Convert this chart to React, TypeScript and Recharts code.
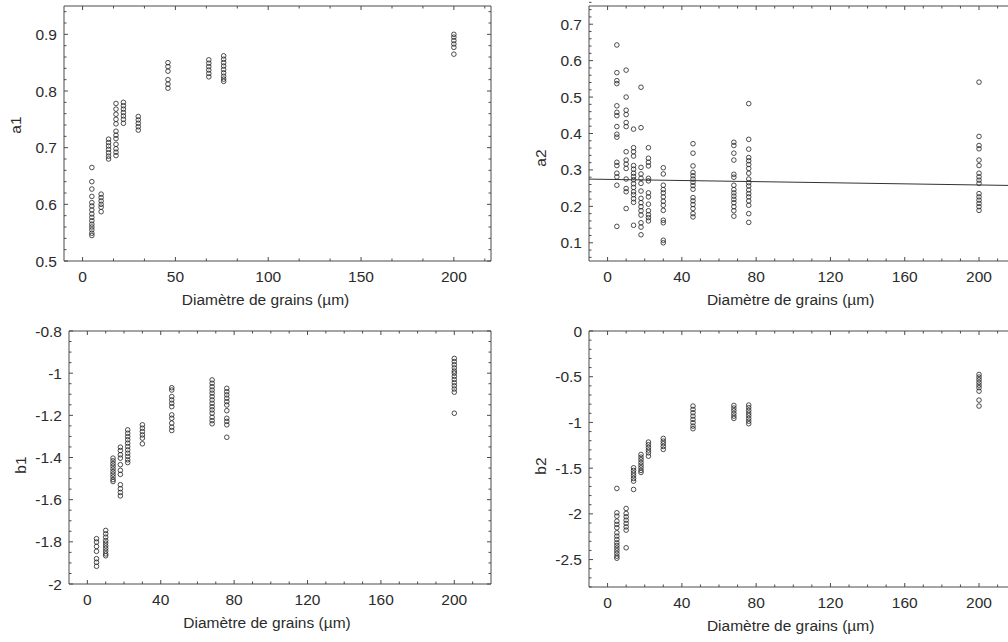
import React from 'react'
import { ScatterChart, Scatter, XAxis, YAxis, Label } from 'recharts'

// grain diameters (µm) shared by all four panels
const diameters = [5, 10, 14, 18, 22, 30, 46, 68, 76, 200]

const a1 = [
  [0.665, 0.64, 0.627, 0.614, 0.603, 0.597, 0.59, 0.583, 0.577, 0.571, 0.565, 0.56, 0.555, 0.549, 0.545],
  [0.618, 0.612, 0.606, 0.6, 0.595, 0.587],
  [0.715, 0.709, 0.703, 0.697, 0.691, 0.685, 0.68],
  [0.778, 0.768, 0.759, 0.75, 0.742, 0.729, 0.722, 0.716, 0.706, 0.698, 0.692, 0.686],
  [0.78, 0.774, 0.768, 0.762, 0.756, 0.75, 0.743],
  [0.755, 0.749, 0.743, 0.737, 0.731],
  [0.85, 0.843, 0.835, 0.82, 0.812, 0.805],
  [0.855, 0.849, 0.843, 0.837, 0.831, 0.825],
  [0.862, 0.856, 0.85, 0.844, 0.838, 0.832, 0.826, 0.821, 0.817],
  [0.9, 0.895, 0.889, 0.883, 0.877, 0.865],
]

const a2 = [
  [0.643, 0.567, 0.545, 0.537, 0.476, 0.458, 0.449, 0.419, 0.398, 0.39, 0.321, 0.312, 0.291, 0.281, 0.258, 0.145],
  [0.574, 0.5, 0.464, 0.452, 0.43, 0.419, 0.35, 0.327, 0.316, 0.304, 0.275, 0.249, 0.24, 0.194],
  [0.412, 0.361, 0.35, 0.338, 0.312, 0.302, 0.291, 0.282, 0.273, 0.262, 0.252, 0.24, 0.232, 0.221, 0.211, 0.148],
  [0.527, 0.416, 0.307, 0.289, 0.277, 0.263, 0.242, 0.222, 0.21, 0.199, 0.188, 0.176, 0.155, 0.143, 0.122],
  [0.361, 0.332, 0.321, 0.311, 0.277, 0.27, 0.237, 0.226, 0.206, 0.188, 0.177, 0.169, 0.16],
  [0.306, 0.289, 0.258, 0.246, 0.237, 0.226, 0.214, 0.203, 0.189, 0.162, 0.155, 0.107, 0.1],
  [0.372, 0.346, 0.311, 0.293, 0.284, 0.275, 0.266, 0.257, 0.247, 0.224, 0.215, 0.205, 0.194, 0.18, 0.171],
  [0.376, 0.367, 0.346, 0.327, 0.288, 0.28, 0.258, 0.246, 0.237, 0.228, 0.219, 0.21, 0.199, 0.188, 0.173],
  [0.482, 0.384, 0.357, 0.334, 0.325, 0.315, 0.304, 0.291, 0.275, 0.265, 0.256, 0.245, 0.235, 0.226, 0.215, 0.203, 0.18, 0.156],
  [0.541, 0.392, 0.367, 0.358, 0.327, 0.312, 0.291, 0.281, 0.272, 0.263, 0.235, 0.226, 0.217, 0.208, 0.199, 0.189],
]

// fitted line on the a2 panel (ends at the visible edge of the panel)
const a2FitX = [-10, 215.6]
const a2FitY = [0.2748, 0.2575]

const b1 = [
  [-1.785, -1.801, -1.822, -1.845, -1.88, -1.897, -1.916],
  [-1.746, -1.762, -1.778, -1.794, -1.806, -1.819, -1.831, -1.844, -1.857, -1.866],
  [-1.403, -1.416, -1.429, -1.441, -1.454, -1.467, -1.479, -1.492, -1.505, -1.514],
  [-1.351, -1.367, -1.387, -1.403, -1.434, -1.461, -1.48, -1.529, -1.548, -1.566, -1.582],
  [-1.269, -1.285, -1.301, -1.316, -1.332, -1.348, -1.364, -1.38, -1.395, -1.411, -1.424],
  [-1.245, -1.261, -1.277, -1.293, -1.308, -1.335],
  [-1.069, -1.08, -1.111, -1.127, -1.143, -1.159, -1.198, -1.214, -1.237, -1.256, -1.272],
  [-1.032, -1.048, -1.064, -1.08, -1.095, -1.111, -1.127, -1.143, -1.159, -1.174, -1.19, -1.209, -1.225, -1.24],
  [-1.072, -1.088, -1.103, -1.119, -1.135, -1.151, -1.178, -1.214, -1.229, -1.245, -1.304],
  [-0.93, -0.945, -0.96, -0.975, -0.99, -1.0, -1.015, -1.03, -1.045, -1.06, -1.075, -1.09, -1.19],
]

const b2 = [
  [-1.722, -1.988, -2.025, -2.08, -2.116, -2.152, -2.207, -2.244, -2.28, -2.317, -2.346, -2.375, -2.404, -2.433, -2.463, -2.485],
  [-1.941, -1.996, -2.032, -2.069, -2.105, -2.142, -2.178, -2.371],
  [-1.496, -1.525, -1.554, -1.583, -1.613, -1.642, -1.733],
  [-1.35, -1.38, -1.408, -1.438, -1.467, -1.496, -1.525, -1.547],
  [-1.215, -1.244, -1.274, -1.303, -1.332, -1.369],
  [-1.175, -1.205, -1.233, -1.263, -1.295],
  [-0.821, -0.858, -0.894, -0.931, -0.967, -1.003, -1.04, -1.069],
  [-0.814, -0.843, -0.872, -0.902, -0.931, -0.956],
  [-0.81, -0.839, -0.869, -0.898, -0.926, -0.956, -0.986, -1.014],
  [-0.475, -0.504, -0.533, -0.562, -0.592, -0.62, -0.658, -0.756, -0.821],
]

const xTicksA1 = [0, 50, 100, 150, 200]
const xTicks = [0, 40, 80, 120, 160, 200]
const yTicksA1 = [0.5, 0.6, 0.7, 0.8, 0.9]
const yTicksA2 = [0.1, 0.2, 0.3, 0.4, 0.5, 0.6, 0.7]
const yTicksB1 = [-2, -1.8, -1.6, -1.4, -1.2, -1, -0.8]
const yTicksB2 = [-2.5, -2, -1.5, -1, -0.5, 0]

const xTitle = 'Diamètre de grains (µm)'
const FONT = '"Liberation Sans", Arial, sans-serif'
const INK = '#2b2b2b'
const FRAME = '#4a4a4a'
const FS = 15.5

const toPoints = (cols: number[][]) => diameters.flatMap((d, i) => cols[i].map((v) => ({ x: d, y: v })))

// minor tick positions (axis decoration only)
const grid = (a: number, b: number, step: number) => {
  const n = Math.round((b - a) / step)
  return Array.from({ length: n + 1 }, (_, i) => Math.round((a + i * step) * 10000) / 10000)
}
const isMajor = (v: number, majors: number[]) => majors.some((m) => Math.abs(m - v) < 1e-6)
const merge = (majors: number[], minors: number[]) =>
  [...majors, ...minors.filter((v) => !isMajor(v, majors))].sort((p, q) => p - q)

const label = (x: number, y: number, v: number, anchor: 'middle' | 'end') => (
  <text x={x} y={y} textAnchor={anchor} fontSize={FS} fontFamily={FONT} fill={INK}>
    {String(v)}
  </text>
)

const bottomTick = (majors: number[]) => (p: any) => {
  const major = isMajor(p.payload.value, majors)
  return (
    <g>
      <line x1={p.x} y1={p.y} x2={p.x} y2={p.y - (major ? 4 : 2.5)} stroke={FRAME} />
      {major && label(p.x, p.y + 21, p.payload.value, 'middle')}
    </g>
  )
}
const topTick = (majors: number[]) => (p: any) => (
  <line x1={p.x} y1={p.y} x2={p.x} y2={p.y + (isMajor(p.payload.value, majors) ? 4 : 2.5)} stroke={FRAME} />
)
const leftTick = (majors: number[]) => (p: any) => {
  const major = isMajor(p.payload.value, majors)
  return (
    <g>
      <line x1={p.x} y1={p.y} x2={p.x + (major ? 4 : 2.5)} y2={p.y} stroke={FRAME} />
      {major && label(p.x - 7, p.y + 5.5, p.payload.value, 'end')}
    </g>
  )
}
const rightTick = (majors: number[]) => (p: any) => (
  <line x1={p.x} y1={p.y} x2={p.x - (isMajor(p.payload.value, majors) ? 4 : 2.5)} y2={p.y} stroke={FRAME} />
)

const ring = (p: any) => <circle cx={p.cx} cy={p.cy} r={2.3} fill="none" stroke="#222" strokeWidth={0.8} />
const nothing = () => <g />

type PanelProps = {
  left: number
  top: number
  width: number
  height: number
  margin: { top: number; right: number; bottom: number; left: number }
  yAxisWidth: number
  xDomain: [number, number]
  frameRight: boolean
  points: { x: number; y: number }[]
  fit?: { x: number; y: number }[]
  xMajor: number[]
  xMinorStep: number
  yDomain: [number, number]
  yMajor: number[]
  yMinorStep: number
  yLabel: string
  yLabelX: number
  yLabelY: number
  titleDx: number
}

function Panel(props: PanelProps) {
  const { xMajor, yMajor, yDomain, xDomain } = props
  const xAll = merge(xMajor, grid(0, 210, props.xMinorStep))
  const yStart = Math.ceil(yDomain[0] / props.yMinorStep - 1e-6) * props.yMinorStep
  const yAll = merge(yMajor, grid(yStart, yDomain[1], props.yMinorStep))

  return (
    <div style={{ position: 'absolute', left: props.left, top: props.top }}>
      <ScatterChart width={props.width} height={props.height} margin={props.margin}>
        <XAxis
          type="number"
          dataKey="x"
          domain={xDomain}
          ticks={xAll}
          interval={0}
          height={50}
          tickSize={0}
          tickMargin={0}
          tickLine={false}
          axisLine={{ stroke: FRAME }}
          tick={bottomTick(xMajor)}
        >
          <Label
            content={(lp: any) => {
              const vb = lp.viewBox
              // title centred on the full (uncropped) frame width
              const full = ((220 - xDomain[0]) / (xDomain[1] - xDomain[0])) * vb.width
              return (
                <text
                  x={vb.x + full / 2 + props.titleDx}
                  y={vb.y + 44}
                  textAnchor="middle"
                  fontSize={FS}
                  fontFamily={FONT}
                  fill={INK}
                >
                  {xTitle}
                </text>
              )
            }}
          />
        </XAxis>
        <XAxis
          xAxisId="top"
          orientation="top"
          type="number"
          dataKey="x"
          domain={xDomain}
          ticks={xAll}
          interval={0}
          height={1}
          tickSize={0}
          tickMargin={0}
          tickLine={false}
          axisLine={{ stroke: FRAME }}
          tick={topTick(xMajor)}
        />
        <YAxis
          type="number"
          dataKey="y"
          domain={yDomain}
          ticks={yAll}
          interval={0}
          width={props.yAxisWidth}
          tickSize={0}
          tickMargin={0}
          tickLine={false}
          axisLine={{ stroke: FRAME }}
          tick={leftTick(yMajor)}
        >
          <Label
            content={() => (
              <text
                x={props.yLabelX}
                y={props.yLabelY}
                transform={`rotate(-90 ${props.yLabelX} ${props.yLabelY})`}
                textAnchor="middle"
                fontSize={FS}
                fontFamily={FONT}
                fill={INK}
              >
                {props.yLabel}
              </text>
            )}
          />
        </YAxis>
        {props.frameRight && (
          <YAxis
            yAxisId="right"
            orientation="right"
            type="number"
            dataKey="y"
            domain={yDomain}
            ticks={yAll}
            interval={0}
            width={1}
            tickSize={0}
            tickMargin={0}
            tickLine={false}
            axisLine={{ stroke: FRAME }}
            tick={rightTick(yMajor)}
          />
        )}
        {/* invisible series so the frame axes (top / right) get drawn */}
        <Scatter
          data={props.points}
          xAxisId="top"
          yAxisId={props.frameRight ? 'right' : 0}
          shape={nothing}
          isAnimationActive={false}
        />
        <Scatter data={props.points} shape={ring} isAnimationActive={false} />
        {props.fit && (
          <Scatter
            data={props.fit}
            line={{ stroke: '#333', strokeWidth: 1 }}
            shape={nothing}
            isAnimationActive={false}
          />
        )}
      </ScatterChart>
    </div>
  )
}

export default function App() {
  const fit = a2FitX.map((x, i) => ({ x, y: a2FitY[i] }))
  return (
    <div
      style={{
        position: 'absolute',
        left: 0,
        top: 0,
        width: 1008,
        height: 642,
        overflow: 'hidden',
        background: '#fff',
      }}
    >
      <Panel
        left={0}
        top={0}
        width={500}
        height={320}
        margin={{ top: 5, right: 8, bottom: 9, left: 0 }}
        yAxisWidth={64}
        xDomain={[-10, 220]}
        frameRight
        points={toPoints(a1)}
        xMajor={xTicksA1}
        xMinorStep={50 / 3}
        yDomain={[0.5, 0.95]}
        yMajor={yTicksA1}
        yMinorStep={0.02}
        yLabel="a1"
        yLabelX={21}
        yLabelY={125}
        titleDx={-12}
      />
      <Panel
        left={520}
        top={0}
        width={488}
        height={320}
        margin={{ top: 5, right: 0, bottom: 9, left: 0 }}
        yAxisWidth={69}
        xDomain={[-10, 215.6]}
        frameRight={false}
        points={toPoints(a2)}
        fit={fit}
        xMajor={xTicks}
        xMinorStep={10}
        yDomain={[0.05, 0.75]}
        yMajor={yTicksA2}
        yMinorStep={0.02}
        yLabel="a2"
        yLabelX={26}
        yLabelY={158}
        titleDx={-12}
      />
      <Panel
        left={0}
        top={320}
        width={500}
        height={322}
        margin={{ top: 10, right: 8, bottom: 8, left: 0 }}
        yAxisWidth={69}
        xDomain={[-10, 220]}
        frameRight
        points={toPoints(b1)}
        xMajor={xTicks}
        xMinorStep={10}
        yDomain={[-2, -0.8]}
        yMajor={yTicksB1}
        yMinorStep={0.05}
        yLabel="b1"
        yLabelX={26}
        yLabelY={145}
        titleDx={-13}
      />
      <Panel
        left={520}
        top={320}
        width={488}
        height={322}
        margin={{ top: 10, right: 0, bottom: 5, left: 0 }}
        yAxisWidth={69}
        xDomain={[-10, 215.6]}
        frameRight={false}
        points={toPoints(b2)}
        xMajor={xTicks}
        xMinorStep={10}
        yDomain={[-2.8, 0]}
        yMajor={yTicksB2}
        yMinorStep={0.1}
        yLabel="b2"
        yLabelX={26}
        yLabelY={146}
        titleDx={-12}
      />
    </div>
  )
}
